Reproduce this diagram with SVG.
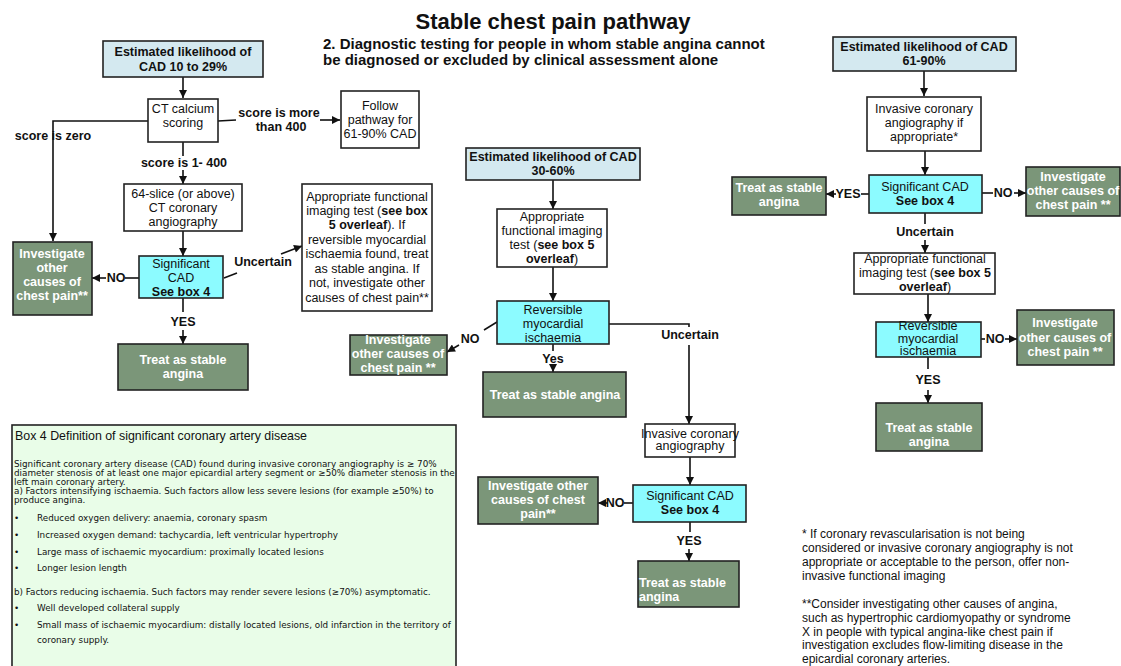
<svg xmlns="http://www.w3.org/2000/svg" width="1121" height="666" viewBox="0 0 1121 666">
<defs>
<marker id="ah" viewBox="0 0 10 10" refX="10" refY="5" markerWidth="9" markerHeight="8" markerUnits="userSpaceOnUse" orient="auto">
<path d="M0,0 L10,5 L0,10 z" fill="#111"/>
</marker>
<style>
.box{stroke:#222;stroke-width:1.6}
.blue{fill:#d4e9f0}
.wh{fill:#fff}
.cy{fill:#8cfbff}
.gr{fill:#7b9679}
.b4{fill:#e9fde8}
text{font-family:"Liberation Sans",Arial,sans-serif;fill:#111}
.t{font-size:12.5px;text-anchor:middle}
.bd{font-weight:bold}
.w{fill:#fff;font-weight:bold}
.lbl{font-size:12.5px;font-weight:bold;text-anchor:middle}
.conn{stroke:#111;stroke-width:1.6;fill:none}
.arr{marker-end:url(#ah)}
.sm{font-family:"DejaVu Sans",Verdana,sans-serif;font-size:8.8px}
.fn{font-size:12px}
</style>
</defs>
<rect width="1121" height="666" fill="#fff"/>

<g id="title">
<text x="553" y="29" font-size="22" font-weight="bold" text-anchor="middle">Stable chest pain pathway</text>
<text x="323" y="49" font-size="15" font-weight="bold">2.  Diagnostic testing for people in whom stable angina cannot</text>
<text x="323" y="65" font-size="15" font-weight="bold">be diagnosed or excluded by clinical assessment alone</text>
</g>

<g id="connectors">
<path class="conn arr" d="M183,77 V98"/>
<path class="conn arr" d="M148,121 H53 V241"/>
<path class="conn" d="M218,121 L236,120"/>
<path class="conn arr" d="M320,120 H340"/>
<path class="conn" d="M183,142 V156"/>
<path class="conn arr" d="M183,170 V184"/>
<path class="conn arr" d="M183,231 V256"/>
<path class="conn" d="M139,278 H125"/>
<path class="conn arr" d="M106,278 H92"/>
<path class="conn" d="M224,278 L237,273"/>
<path class="conn arr" d="M281,254 L302,246"/>
<path class="conn" d="M183,298 V312"/>
<path class="conn arr" d="M183,330 V344"/>

<path class="conn arr" d="M553,180 V209"/>
<path class="conn arr" d="M553,267 V301"/>
<path class="conn" d="M497,322 L484,330"/>
<path class="conn arr" d="M459,345 L447,352"/>
<path class="conn" d="M553,344 V351"/>
<path class="conn arr" d="M553,364 V372"/>
<path class="conn" d="M609,324 H689 V327"/>
<path class="conn arr" d="M689,345 V424"/>
<path class="conn arr" d="M690,457 V485"/>
<path class="conn" d="M633,503 H624"/>
<path class="conn arr" d="M608,503 H598"/>
<path class="conn" d="M690,522 V532"/>
<path class="conn arr" d="M689,549 V561"/>

<path class="conn arr" d="M924,71 V96"/>
<path class="conn arr" d="M925,151 V175"/>
<path class="conn" d="M869,194 H861"/>
<path class="conn arr" d="M836,194 H826"/>
<path class="conn" d="M982,193 H993"/>
<path class="conn arr" d="M1014,193 H1026"/>
<path class="conn" d="M925,213 V224"/>
<path class="conn arr" d="M925,240 V253"/>
<path class="conn arr" d="M928,294 V322"/>
<path class="conn" d="M981,339 H985"/>
<path class="conn arr" d="M1005,339 H1017"/>
<path class="conn" d="M928,357 V369"/>
<path class="conn arr" d="M928,390 V403"/>
</g>

<g id="labels">
<text class="lbl" x="53" y="140">score is zero</text>
<text class="lbl" x="279" y="117">score is more</text>
<text class="lbl" x="281" y="131">than 400</text>
<text class="lbl" x="184" y="167">score is 1- 400</text>
<text class="lbl" x="116" y="282">NO</text>
<text class="lbl" x="263" y="266">Uncertain</text>
<text class="lbl" x="183" y="326">YES</text>
<text class="lbl" x="470" y="343">NO</text>
<text class="lbl" x="553" y="363">Yes</text>
<text class="lbl" x="690" y="339">Uncertain</text>
<text class="lbl" x="615" y="507">NO</text>
<text class="lbl" x="689" y="545">YES</text>
<text class="lbl" x="848" y="198">YES</text>
<text class="lbl" x="1003" y="197">NO</text>
<text class="lbl" x="925" y="236">Uncertain</text>
<text class="lbl" x="995" y="343">NO</text>
<text class="lbl" x="928" y="384">YES</text>
</g>

<g id="n-est-10-29">
<rect class="box blue" x="103" y="41" width="160" height="36"/>
<text class="t bd" x="183" y="56">Estimated likelihood of</text>
<text class="t bd" x="183" y="71">CAD 10 to 29%</text>
</g>
<g id="n-ct-calcium">
<rect class="box wh" x="148" y="99" width="70" height="43"/>
<text class="t" x="183" y="113">CT calcium</text>
<text class="t" x="183" y="127">scoring</text>
</g>
<g id="n-follow">
<rect class="box wh" x="341" y="91" width="78" height="57"/>
<text class="t" x="380" y="110">Follow</text>
<text class="t" x="380" y="124">pathway for</text>
<text class="t" x="380" y="138">61-90% CAD</text>
</g>
<g id="n-64slice">
<rect class="box wh" x="124" y="184" width="118" height="47"/>
<text class="t" x="183" y="198">64-slice (or above)</text>
<text class="t" x="183" y="212">CT coronary</text>
<text class="t" x="183" y="226">angiography</text>
</g>
<g id="n-sigcad-left">
<rect class="box cy" x="139" y="256" width="84" height="42"/>
<text class="t" x="181" y="268">Significant</text>
<text class="t" x="181" y="282">CAD</text>
<text class="t bd" x="181" y="296">See box 4</text>
</g>
<g id="n-invest-left">
<rect class="box gr" x="13" y="242" width="79" height="73"/>
<text class="t w" x="52" y="258">Investigate</text>
<text class="t w" x="52" y="272">other</text>
<text class="t w" x="52" y="286">causes of</text>
<text class="t w" x="52" y="300">chest pain**</text>
</g>
<g id="n-functional-left">
<rect class="box wh" x="302" y="184" width="130" height="127"/>
<text class="t" x="367" y="201">Appropriate functional</text>
<text class="t" x="367" y="215">imaging test (<tspan class="bd">see box</tspan></text>
<text class="t" x="367" y="229"><tspan class="bd">5 overleaf</tspan>). If</text>
<text class="t" x="367" y="244">reversible myocardial</text>
<text class="t" x="367" y="258">ischaemia found, treat</text>
<text class="t" x="367" y="273">as stable angina. If</text>
<text class="t" x="367" y="287">not, investigate other</text>
<text class="t" x="367" y="302">causes of chest pain**</text>
</g>
<g id="n-treat-left">
<rect class="box gr" x="118" y="344" width="130" height="46"/>
<text class="t w" x="183" y="364">Treat as stable</text>
<text class="t w" x="183" y="378">angina</text>
</g>

<g id="n-est-30-60">
<rect class="box blue" x="466" y="148" width="174" height="32"/>
<text class="t bd" x="553" y="161">Estimated likelihood of CAD</text>
<text class="t bd" x="553" y="175">30-60%</text>
</g>
<g id="n-functional-mid">
<rect class="box wh" x="497" y="209" width="110" height="58"/>
<text class="t" x="552" y="221">Appropriate</text>
<text class="t" x="552" y="235">functional imaging</text>
<text class="t" x="552" y="249">test (<tspan class="bd">see box 5</tspan></text>
<text class="t" x="552" y="263"><tspan class="bd">overleaf</tspan>)</text>
</g>
<g id="n-reversible-mid">
<rect class="box cy" x="497" y="301" width="112" height="43"/>
<text class="t" x="553" y="314">Reversible</text>
<text class="t" x="553" y="328">myocardial</text>
<text class="t" x="553" y="342">ischaemia</text>
</g>
<g id="n-invest-mid">
<rect class="box gr" x="350" y="335" width="97" height="40"/>
<text class="t w" x="398" y="344">Investigate</text>
<text class="t w" x="398" y="358">other causes of</text>
<text class="t w" x="398" y="372">chest pain **</text>
</g>
<g id="n-treat-mid">
<rect class="box gr" x="483" y="372" width="143" height="45"/>
<text class="t w" x="555" y="399" font-size="11">Treat as stable angina</text>
</g>
<g id="n-invasive-mid">
<rect class="box wh" x="645" y="424" width="90" height="33"/>
<text class="t" x="690" y="438" font-size="10">Invasive coronary</text>
<text class="t" x="690" y="450" font-size="10">angiography</text>
</g>
<g id="n-sigcad-mid">
<rect class="box cy" x="633" y="485" width="113" height="37"/>
<text class="t" x="690" y="500">Significant CAD</text>
<text class="t bd" x="690" y="514">See box 4</text>
</g>
<g id="n-invest-mid2">
<rect class="box gr" x="478" y="477" width="120" height="47"/>
<text class="t w" x="538" y="490">Investigate other</text>
<text class="t w" x="538" y="504">causes of chest</text>
<text class="t w" x="538" y="518">pain**</text>
</g>
<g id="n-treat-mid2">
<rect class="box gr" x="638" y="561" width="101" height="46"/>
<text class="w" x="639" y="587" font-size="12.5">Treat as stable</text>
<text class="w" x="639" y="601" font-size="12.5">angina</text>
</g>

<g id="n-est-61-90">
<rect class="box blue" x="833" y="37" width="183" height="34"/>
<text class="t bd" x="924" y="51">Estimated likelihood of CAD</text>
<text class="t bd" x="924" y="65">61-90%</text>
</g>
<g id="n-invasive-right">
<rect class="box wh" x="867" y="97" width="114" height="54"/>
<text class="t" x="924" y="113">Invasive coronary</text>
<text class="t" x="924" y="127">angiography if</text>
<text class="t" x="924" y="141">appropriate*</text>
</g>
<g id="n-sigcad-right">
<rect class="box cy" x="869" y="175" width="113" height="38"/>
<text class="t" x="925" y="191">Significant CAD</text>
<text class="t bd" x="925" y="205">See box 4</text>
</g>
<g id="n-treat-right1">
<rect class="box gr" x="732" y="177" width="94" height="38"/>
<text class="t w" x="779" y="192">Treat as stable</text>
<text class="t w" x="779" y="206">angina</text>
</g>
<g id="n-invest-right1">
<rect class="box gr" x="1026" y="167" width="94" height="49"/>
<text class="t w" x="1073" y="181">Investigate</text>
<text class="t w" x="1073" y="195">other causes of</text>
<text class="t w" x="1073" y="209">chest pain **</text>
</g>
<g id="n-functional-right">
<rect class="box wh" x="854" y="253" width="141" height="41"/>
<text class="t" x="925" y="263">Appropriate functional</text>
<text class="t" x="925" y="277">imaging test  (<tspan class="bd">see box 5</tspan></text>
<text class="t" x="925" y="291"><tspan class="bd">overleaf</tspan>)</text>
</g>
<g id="n-reversible-right">
<rect class="box cy" x="876" y="322" width="105" height="35"/>
<text class="t" x="928" y="330" font-size="10.5">Reversible</text>
<text class="t" x="928" y="343" font-size="10.5">myocardial</text>
<text class="t" x="928" y="355" font-size="10.5">ischaemia</text>
</g>
<g id="n-invest-right2">
<rect class="box gr" x="1017" y="310" width="97" height="55"/>
<text class="t w" x="1065" y="327">Investigate</text>
<text class="t w" x="1065" y="342">other causes of</text>
<text class="t w" x="1065" y="356">chest pain **</text>
</g>
<g id="n-treat-right2">
<rect class="box gr" x="876" y="403" width="106" height="48"/>
<text class="t w" x="929" y="432">Treat as stable</text>
<text class="t w" x="929" y="446">angina</text>
</g>

<g id="box4">
<rect class="box b4" x="12" y="425" width="444" height="250"/>
<text x="15" y="440" font-size="12.4">Box 4 Definition of significant coronary artery disease</text>
<text class="sm" x="14" y="467">Significant coronary artery disease (CAD) found during invasive coronary angiography  is ≥ 70%</text>
<text class="sm" x="14" y="476">diameter stenosis of at least one major epicardial artery segment or ≥50%  diameter stenosis in the</text>
<text class="sm" x="14" y="485">left main coronary artery.</text>
<text class="sm" x="14" y="494">a) Factors intensifying ischaemia. Such factors allow less severe lesions (for example ≥50%) to</text>
<text class="sm" x="14" y="503">produce angina.</text>
<text class="sm" x="14" y="521">•</text><text class="sm" x="37" y="521">Reduced oxygen delivery: anaemia,  coronary spasm</text>
<text class="sm" x="14" y="538">•</text><text class="sm" x="37" y="538">Increased oxygen demand: tachycardia, left ventricular hypertrophy</text>
<text class="sm" x="14" y="555">•</text><text class="sm" x="37" y="555">Large mass of ischaemic myocardium: proximally located lesions</text>
<text class="sm" x="14" y="571">•</text><text class="sm" x="37" y="571">Longer lesion length</text>
<text class="sm" x="14" y="595">b) Factors reducing ischaemia. Such factors may render severe lesions (≥70%) asymptomatic.</text>
<text class="sm" x="14" y="611">•</text><text class="sm" x="37" y="611">Well developed collateral supply</text>
<text class="sm" x="14" y="628">•</text><text class="sm" x="37" y="628">Small mass of ischaemic myocardium: distally located lesions, old infarction in the territory of</text>
<text class="sm" x="37" y="643">coronary supply.</text>
</g>

<g id="footnotes">
<text class="fn" x="802" y="538">* If coronary revascularisation is not being</text>
<text class="fn" x="802" y="552">considered or invasive coronary angiography is not</text>
<text class="fn" x="802" y="566">appropriate or acceptable to the person, offer non-</text>
<text class="fn" x="802" y="580">invasive functional imaging</text>
<text class="fn" x="802" y="608">**Consider investigating other causes of angina,</text>
<text class="fn" x="802" y="622">such as hypertrophic cardiomyopathy or syndrome</text>
<text class="fn" x="802" y="635.5">X in people with typical angina-like chest pain if</text>
<text class="fn" x="802" y="649">investigation excludes flow-limiting disease in the</text>
<text class="fn" x="802" y="662.5">epicardial coronary arteries.</text>
</g>
</svg>
